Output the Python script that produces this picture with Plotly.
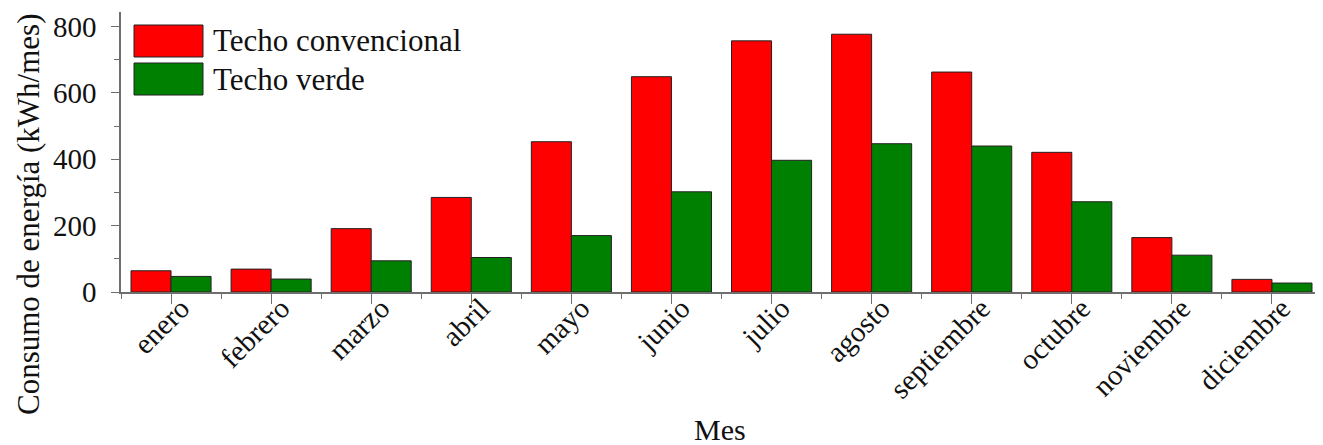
import plotly.graph_objects as go

months = ["enero", "febrero", "marzo", "abril", "mayo", "junio", "julio",
          "agosto", "septiembre", "octubre", "noviembre", "diciembre"]
conventional = [64, 69, 191, 285, 453, 649, 757, 777, 663, 421, 164, 38]
green_roof = [47, 39, 94, 104, 170, 302, 397, 447, 440, 272, 111, 27]
series_names = ["Techo convencional", "Techo verde"]
y_ticks = [0, 200, 400, 600, 800]

RED = "#ff0000"
GREEN = "#008000"
FONT = "Liberation Serif"
AXIS_COLOR = "#6e6e6e"

OFF = 8  # page body margin
W, H = 1323 - OFF, 445 - OFF
ML, MR, MT, MB = 113, 1, 4, 153
PW, PH = W - ML - MR, H - MT - MB

def px_x(p):
    return (p - OFF - ML) / PW

def px_y(p):
    return (H - MB - (p - OFF)) / PH

idx = list(range(len(months)))

fig = go.Figure()
fig.add_trace(go.Bar(x=idx, y=conventional, name=series_names[0],
                     marker=dict(color=RED, line=dict(color="#222", width=1))))
fig.add_trace(go.Bar(x=idx, y=green_roof, name=series_names[1],
                     marker=dict(color=GREEN, line=dict(color="#222", width=1))))

# custom legend (large swatches as in the reference)
shapes = []
annotations = []
for i, (nm, col) in enumerate(zip(series_names, [RED, GREEN])):
    top = 25 + i * 38
    shapes.append(dict(type="rect", xref="paper", yref="paper",
                       x0=px_x(134), x1=px_x(203), y0=px_y(top + 32), y1=px_y(top),
                       fillcolor=col, line=dict(color="#222", width=1)))
    annotations.append(dict(text=nm, xref="paper", yref="paper",
                            x=px_x(211), y=px_y(top + 16), xanchor="left", yanchor="middle",
                            showarrow=False, font=dict(family=FONT, size=31, color="#111")))

annotations.append(dict(text="Consumo de energía (kWh/mes)", xref="paper", yref="paper",
                        x=px_x(28), y=px_y(215), xanchor="center", yanchor="middle",
                        textangle=-90, showarrow=False, borderpad=0,
                        font=dict(family=FONT, size=31, color="#111")))
annotations.append(dict(text="Mes", xref="paper", yref="paper",
                        x=px_x(720), y=px_y(429), xanchor="center", yanchor="middle",
                        showarrow=False, font=dict(family=FONT, size=30, color="#111")))

fig.update_layout(
    width=W, height=H,
    margin=dict(l=ML, r=MR, t=MT, b=MB, pad=0),
    paper_bgcolor="white", plot_bgcolor="white",
    barmode="group", bargap=0.2, bargroupgap=0,
    showlegend=False,
    shapes=shapes, annotations=annotations,
    font=dict(family=FONT, size=29, color="#111"),
    xaxis=dict(range=[-0.5, 11.5], tickmode="array", tickvals=idx, ticktext=months,
               tickangle=-45, ticks="outside", ticklen=10, tickcolor=AXIS_COLOR,
               ticklabelstandoff=-24, ticklabelshift=10,
               showline=True, linecolor=AXIS_COLOR, linewidth=1.5,
               showgrid=False, zeroline=False,
               minor=dict(tick0=0.5, dtick=1, ticks="outside", ticklen=5,
                          tickcolor=AXIS_COLOR, showgrid=False),
               tickfont=dict(family=FONT, size=29, color="#111")),
    yaxis=dict(range=[0, 844], tickmode="array", tickvals=y_ticks,
               ticks="outside", ticklen=8, tickcolor=AXIS_COLOR,
               ticklabelstandoff=9,
               showline=True, linecolor=AXIS_COLOR, linewidth=1.5,
               showgrid=False, zeroline=False,
               minor=dict(tick0=100, dtick=200, ticks="outside", ticklen=5,
                          tickcolor=AXIS_COLOR, showgrid=False),
               tickfont=dict(family=FONT, size=29, color="#111")),
)

fig.write_html("out.html")
